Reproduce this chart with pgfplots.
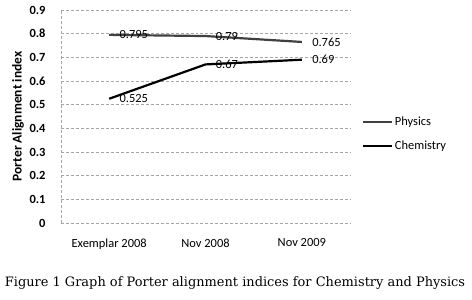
\documentclass[border=0pt]{standalone}
\usepackage{pgfplots}
\pgfplotsset{compat=1.18}
\usepackage{fontspec}
\setmainfont{Carlito}
\newfontfamily\capfont{DejaVu Serif}
\begin{document}
\begin{tikzpicture}[x=1bp,y=1bp]
\path[use as bounding box] (0,0) rectangle (472,299);
\begin{axis}[
  at={(61bp,76bp)}, anchor=south west,
  scale only axis, width=289bp, height=213bp,
  xmin=-0.5, xmax=2.5, ymin=0, ymax=0.9,
  xtick={0,1,2}, xticklabels={Exemplar 2008, Nov 2008, Nov 2009},
  ytick={0,0.1,0.2,0.3,0.4,0.5,0.6,0.7,0.8,0.9},
  yticklabels={0,0.1,0.2,0.3,0.4,0.5,0.6,0.7,0.8,0.9},
  ymajorgrids, grid style={gray!70, densely dashed, line width=0.6bp},
  axis x line*=bottom, axis y line*=left,
  x axis line style={gray!70, densely dashed, line width=0.6bp, -},
  y axis line style={gray!70, densely dashed, line width=0.6bp, -},
  major tick length=0pt,
  tick label style={font=\fontsize{12.5}{13}\selectfont},
  yticklabel style={anchor=east, xshift=-12bp, font=\bfseries\fontsize{12.5}{13}\selectfont},
  xticklabel style={anchor=north, yshift=-12bp},
  ylabel={\bfseries Porter Alignment index},
  ylabel style={at={(axis description cs:-0.149,0.5)}, anchor=center, font=\fontsize{13.5}{14}\selectfont},
  legend style={at={(axis description cs:1.04,0.51)}, anchor=north west, draw=none, fill=none,
    font=\fontsize{12.5}{13}\selectfont, row sep=10bp, inner sep=0pt},
  legend cell align=left,
  legend image code/.code={\draw[#1, line width=2.2bp] (0bp,0bp) -- (29bp,0bp);},
  nodes near coords, point meta=explicit symbolic,
  nodes near coords style={anchor=west, xshift=6bp, font=\fontsize{12.5}{13}\selectfont, text=black},
  clip=false,
]
\addplot[black!75, line width=2.2bp] coordinates {(0,0.795) [0.795] (1,0.79) [0.79] (2,0.765) [0.765]};
\addlegendentry{Physics}
\addplot[black, line width=2.2bp] coordinates {(0,0.525) [0.525] (1,0.67) [0.67] (2,0.69) [0.69]};
\addlegendentry{Chemistry}
\end{axis}
\node[font=\capfont\fontsize{13}{14}\selectfont] at (235,16) {Figure 1 Graph of Porter alignment indices for Chemistry and Physics};
\end{tikzpicture}
\end{document}
